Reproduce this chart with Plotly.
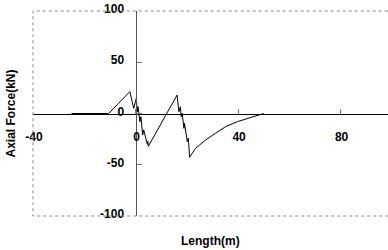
import plotly.graph_objects as go

# Axial force along length
length_m = [-25, -10.5, -2.2, -0.7, 0.3, 0.7, 1.0, 1.7, 2.1, 2.8, 3.2, 4.6, 4.8, 5.0,
            16.2, 16.9, 17.5, 17.8, 18.2, 18.9, 19.1, 20.2, 20.6, 21.1,
            23.4, 27.3, 31.2, 35.1, 39.7, 44.2, 49.4, 50.0]
axial_kN = [0, 0, 21.3, 5, 14.8, 1.8, 6.6, -8, -3.1, -21, -16, -30, -27, -32,
            18, 1.8, 6.6, -3, 0.2, -14.5, -9.6, -27.5, -24, -42.7,
            -34, -25.9, -19.3, -12.9, -8, -4.7, -0.8, 0]

x_ticks = [-40, 0, 40, 80]
y_ticks = [-100, -50, 0, 50, 100]
x_range = [-40, 98.5]
y_range = [-100, 100]

font = dict(family="Liberation Sans, Arial, sans-serif", size=12, color="black", weight="bold")

fig = go.Figure()
fig.add_trace(go.Scatter(x=length_m, y=axial_kN, mode="lines",
                         line=dict(color="black", width=1), showlegend=False))

ypos = (0 - x_range[0]) / (x_range[1] - x_range[0])

fig.update_layout(
    width=388, height=250,
    margin=dict(l=33, r=0, t=11, b=34, autoexpand=False),
    paper_bgcolor="white", plot_bgcolor="white",
    font=font,
    xaxis=dict(range=x_range, tickvals=x_ticks, ticktext=[str(v) for v in x_ticks],
               anchor="free", position=0.5, showline=True, linecolor="black", linewidth=1,
               ticks="inside", ticklen=5, tickcolor="#777", showgrid=False, zeroline=False,
               ticklabelstandoff=12, ticklabelshift=1, tickfont=font, automargin=False),
    yaxis=dict(range=y_range, tickvals=y_ticks, ticktext=[str(v) for v in y_ticks],
               anchor="free", position=ypos, showline=True, linecolor="#555", linewidth=1,
               ticks="inside", ticklen=5, tickcolor="#777", showgrid=False, zeroline=False,
               ticklabelstandoff=9, ticklabelshift=-2, tickfont=font, automargin=False),
    shapes=[
        dict(type="path", xref="paper", yref="paper",
             path="M 1.05 1 L 0 1 L 0 0 L 1.05 0",
             line=dict(color="#888", width=1, dash="dot")),
    ],
    annotations=[
        dict(text="Axial Force(kN)", xref="paper", yref="paper", x=-0.062, y=0.5,
             textangle=-90, showarrow=False, xanchor="center", yanchor="middle", font=font),
        dict(text="Length(m)", xref="paper", yref="paper", x=0.501, y=-0.122,
             showarrow=False, xanchor="center", yanchor="middle", font=font),
    ],
)

fig.write_html("out.html", config={"displayModeBar": False},
               post_script="document.body.style.margin='0';document.body.style.overflow='hidden';")
